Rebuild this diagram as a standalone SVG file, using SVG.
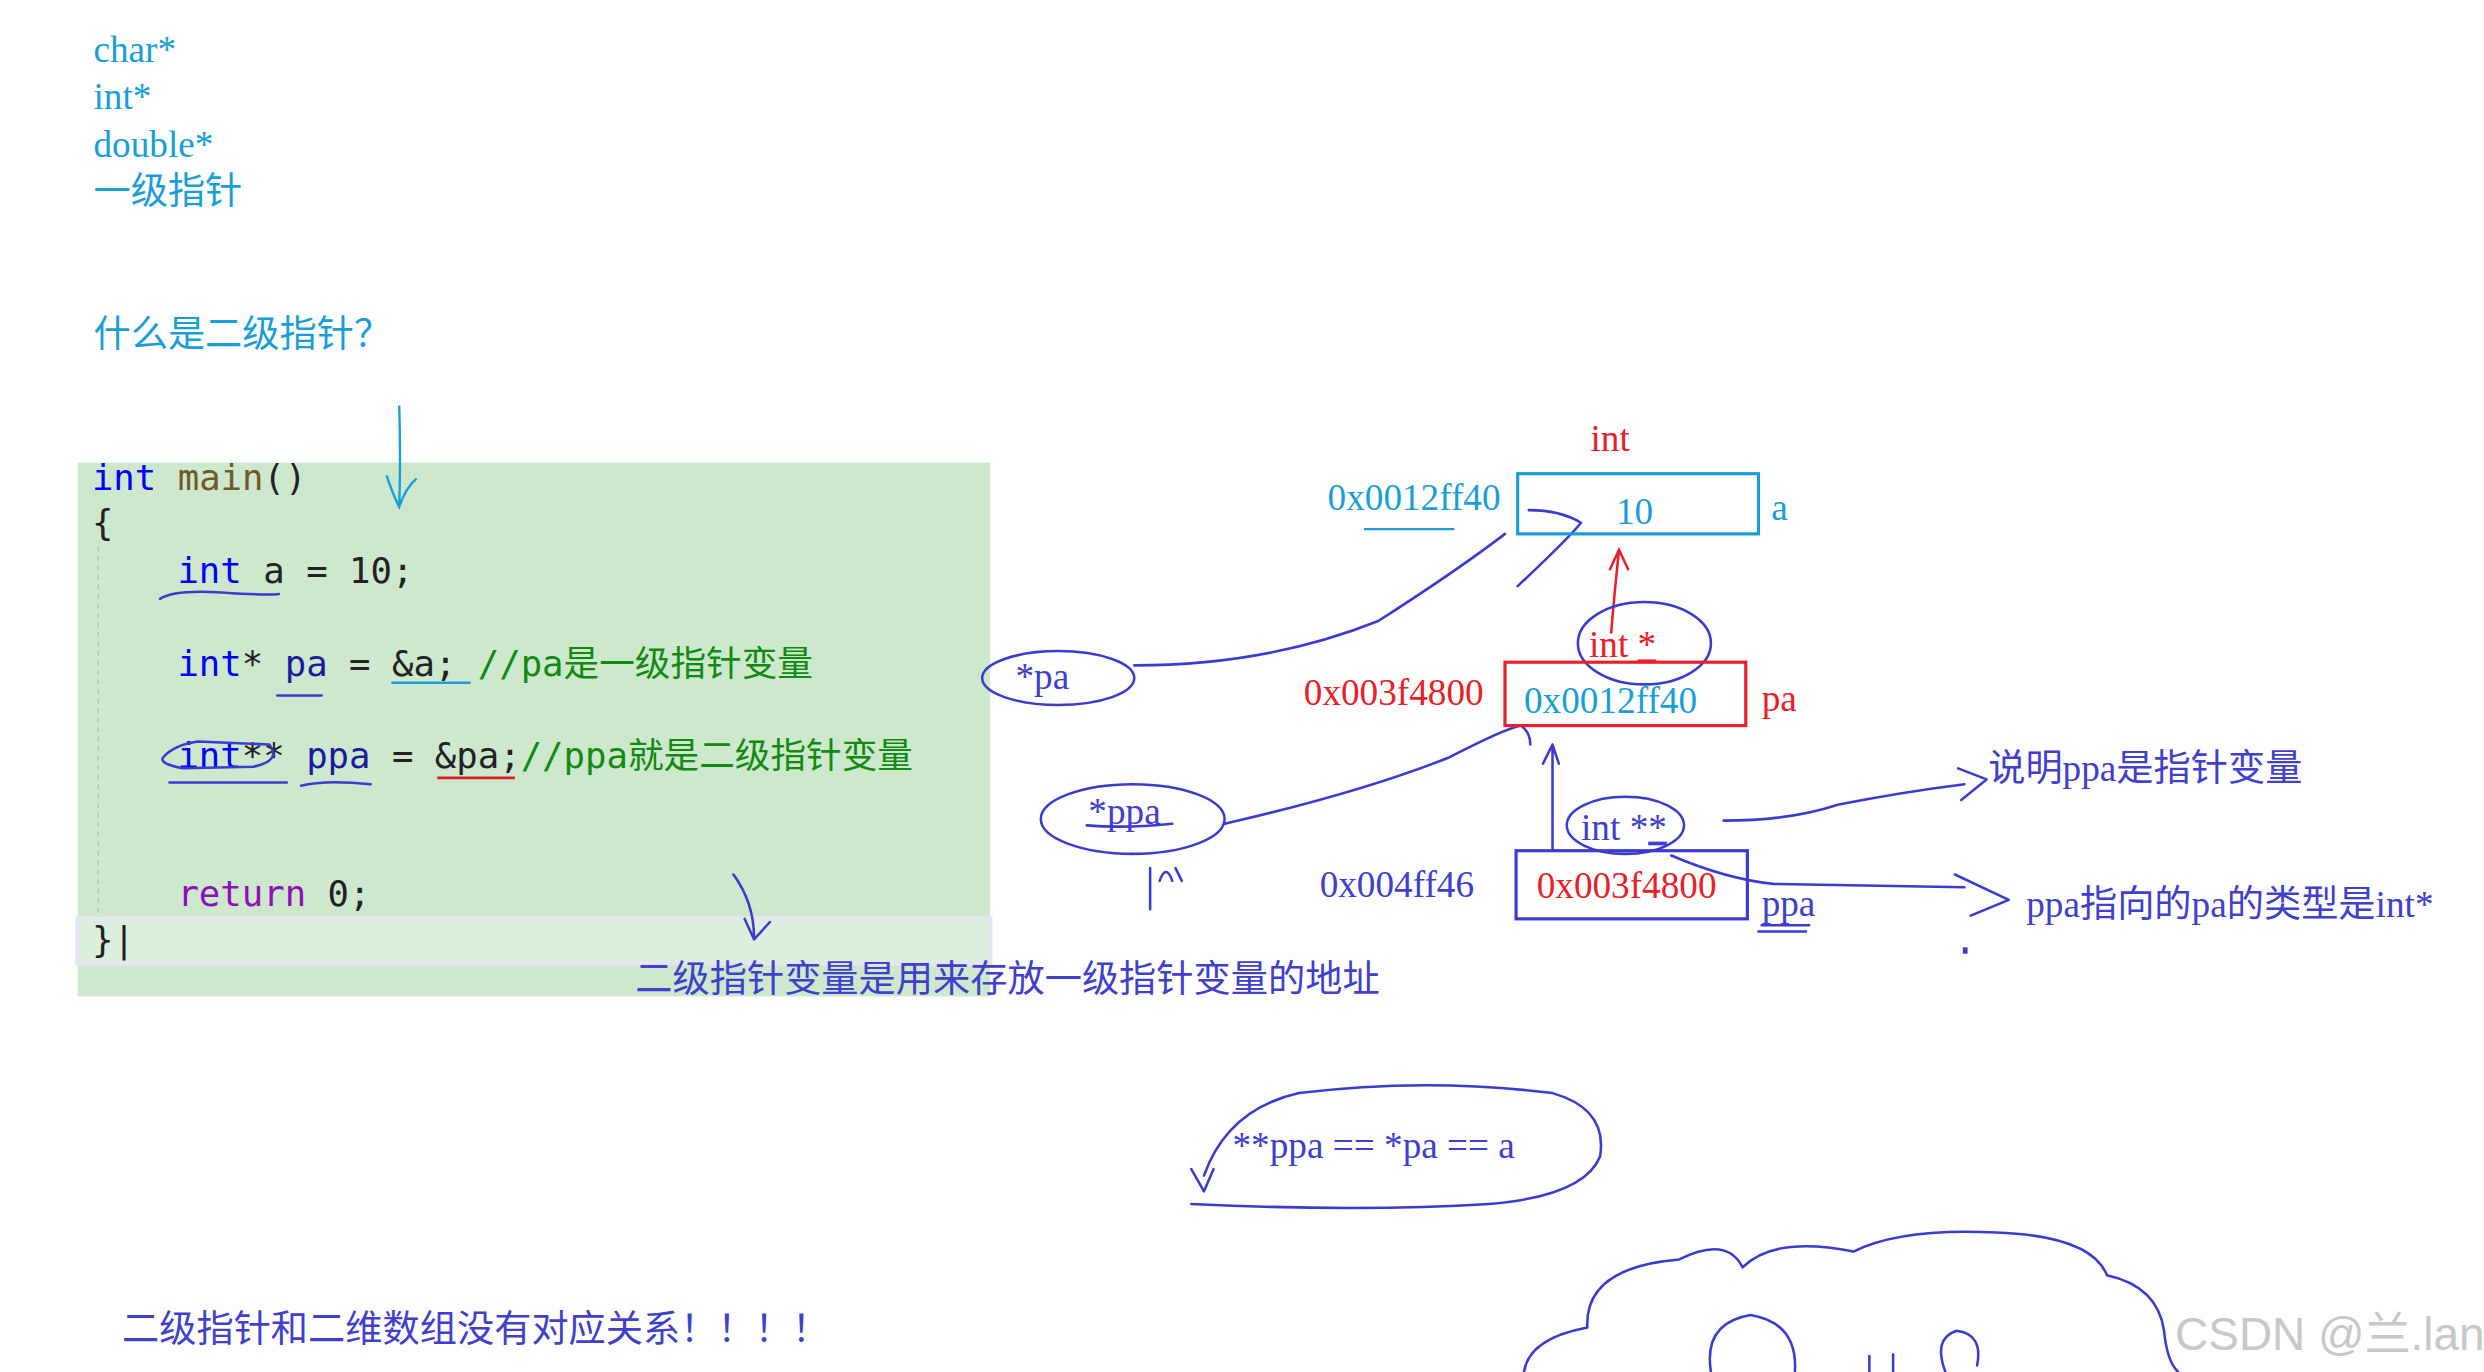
<svg xmlns="http://www.w3.org/2000/svg" width="2484" height="1372" viewBox="0 0 2484 1372">
<defs>
<style>
.s{font-family:"Liberation Serif","Noto Sans CJK SC",serif;font-size:23.5px}
.m{font-family:"DejaVu Sans Mono","Noto Sans CJK SC",monospace;font-size:22.5px}
.cy{fill:#1a9ed8}.rd{fill:#e8202a}.bl{fill:#4040cc}
.pen{fill:none;stroke:#3b3bd0;stroke-width:1.6;stroke-linecap:round;stroke-linejoin:round}
</style>
</defs>
<rect width="2484" height="1372" fill="#fff"/>
<g transform="scale(1.5842)">
<g id="intro">
<text class="s cy" x="59" y="39">char*</text>
<text class="s cy" x="59" y="69">int*</text>
<text class="s cy" x="59" y="99">double*</text>
<text class="s cy" x="59" y="129">一级指针</text>
<text class="s cy" x="59" y="219">什么是二级指针？</text>
</g>
<g id="code">
<rect x="49" y="292" width="576" height="337" fill="#cde8cd"/>
<rect x="49" y="580" width="576" height="28" fill="#dcefdc" stroke="#e4e8ee" stroke-width="3"/>
<line x1="62" y1="345" x2="62" y2="578" stroke="#b8c8b8" stroke-dasharray="3 3"/>
<text class="m" x="58" y="309"><tspan fill="#0000ff">int</tspan><tspan fill="#6f5a2a"> main</tspan><tspan fill="#222">()</tspan></text>
<text class="m" x="58" y="338" fill="#222">{</text>
<text class="m" x="112" y="368"><tspan fill="#0000ff">int</tspan><tspan fill="#222"> a = 10;</tspan></text>
<text class="m" x="112" y="427"><tspan fill="#0000ff">int</tspan><tspan fill="#222">* </tspan><tspan fill="#1a1aa0">pa</tspan><tspan fill="#222"> = &amp;a; </tspan><tspan fill="#118a11">//pa是一级指针变量</tspan></text>
<text class="m" x="112" y="485"><tspan fill="#0000ff">int</tspan><tspan fill="#222">** </tspan><tspan fill="#1a1aa0">ppa</tspan><tspan fill="#222"> = &amp;pa;</tspan><tspan fill="#118a11">//ppa就是二级指针变量</tspan></text>
<text class="m" x="112" y="572"><tspan fill="#8f10b8">return</tspan><tspan fill="#222"> 0;</tspan></text>
<text class="m" x="58" y="601" fill="#222">}|</text>
<path class="pen" d="M101 378 Q110 372 140 374 T176 375"/>
<path class="pen" d="M175 439 H203"/>
<path d="M247 431 H297" stroke="#1a9ed8" stroke-width="1.6" fill="none"/>
<path class="pen" d="M103 478 Q110 470 125 468 L170 470 Q178 480 160 484 L115 485 Q100 482 103 478 Z"/>
<path class="pen" d="M107 494 H181"/>
<path class="pen" d="M190 496 Q205 492 234 495"/>
<path d="M276 491 H325" stroke="#e02020" stroke-width="1.8"/>
</g>
<g id="connectors">
<path d="M252 256 Q253 290 252 320 M244 300 Q248 312 252 320 Q256 308 263 302" fill="none" stroke="#1a9ed8" stroke-width="1.5"/>
<path class="pen" d="M463 552 Q476 570 476 592 M470 580 L476 593 L486 582"/>
<path class="pen" d="M716 420 Q800 420 870 392 Q920 360 950 337"/>
<path class="pen" d="M958 370 Q990 340 998 330 Q985 322 965 322"/>
<path d="M1017 400 Q1019 375 1022 347 M1016 360 L1022 347 L1028 360" fill="none" stroke="#e8202a" stroke-width="1.6"/>
<path class="pen" d="M773 520 Q860 500 915 478 Q950 460 960 458 Q966 462 966 470"/>
<path class="pen" d="M980 537 V470 M974 482 L980 470 L984 482"/>
<path class="pen" d="M1088 518 Q1130 518 1160 508 Q1200 500 1240 495 M1236 485 L1254 492 L1238 505"/>
<path class="pen" d="M1055 540 Q1090 555 1120 558 L1240 560 M1234 552 L1268 568 L1244 578"/>
<path class="pen" d="M726 548 V574 M732 556 Q736 545 740 556 M742 548 L746 556"/>
</g>
<g id="memory">
<text class="s rd" x="1004" y="285">int</text>
<text class="s cy" x="838" y="322">0x0012ff40</text>
<path d="M861 334 H918" stroke="#1a9ed8" stroke-width="1.5"/>
<rect x="958" y="299" width="152" height="38" fill="none" stroke="#1a9ed8" stroke-width="2"/>
<text class="s cy" x="1020" y="331">10</text>
<text class="s cy" x="1118" y="328">a</text>
<text class="s rd" x="1003" y="415">int <tspan text-decoration="underline">*</tspan></text>
<ellipse cx="1038" cy="406" rx="42" ry="26" class="pen"/>
<text class="s rd" x="823" y="445">0x003f4800</text>
<rect x="950" y="418" width="152" height="40" fill="none" stroke="#e8202a" stroke-width="2"/>
<text class="s cy" x="962" y="450">0x0012ff40</text>
<text class="s rd" x="1112" y="449">pa</text>
<text class="s bl" x="998" y="530">int *<tspan text-decoration="underline">*</tspan></text>
<ellipse cx="1026" cy="521" rx="37" ry="18" class="pen"/>
<text class="s bl" x="833" y="566">0x004ff46</text>
<rect x="957" y="537" width="146" height="43" fill="none" stroke="#3b3bd0" stroke-width="2"/>
<text class="s rd" x="970" y="567">0x003f4800</text>
<text class="s bl" x="1112" y="578">ppa</text>
<path class="pen" d="M1112 584 H1142 M1110 588 H1140"/>
<text class="s bl" x="1255" y="493">说明ppa是指针变量</text>
<text class="s bl" x="1279" y="579">ppa指向的pa的类型是int*</text>
<rect x="1239" y="598" width="3" height="4" fill="#3b3bd0"/>
</g>
<g id="deref">
<ellipse cx="668" cy="428" rx="48" ry="17" class="pen"/>
<text class="s bl" x="641" y="435">*pa</text>
<ellipse cx="715" cy="517" rx="58" ry="22" class="pen"/>
<text class="s bl" x="687" y="520">*ppa</text>
<path class="pen" d="M686 521 Q710 523 740 520"/>
</g>
<g id="summary">
<text class="s bl" x="401" y="626">二级指针变量是用来存放一级指针变量的地址</text>
<path class="pen" d="M760 742 Q775 700 820 690 Q900 680 980 690 Q1015 700 1010 730 Q1000 755 940 760 Q860 765 752 760 M752 738 L760 752 L766 738"/>
<text class="s bl" x="778" y="731">**ppa == *pa == a</text>
<text class="s bl" x="77" y="847">二级指针和二维数组没有对应关系！！！！</text>
<path class="pen" d="M962 866 Q965 845 1002 838 Q1000 800 1060 795 Q1090 780 1100 800 Q1120 780 1170 790 Q1200 775 1260 778 Q1320 780 1330 805 Q1362 812 1366 840 Q1368 860 1375 866"/>
<path class="pen" d="M1080 866 Q1075 835 1105 830 Q1135 835 1133 866"/>
<path class="pen" d="M1228 866 Q1220 845 1235 840 Q1252 842 1248 862"/>
<path class="pen" d="M1180 866 V856 M1195 866 V855"/>
</g>
<text x="1373" y="852" font-family="Liberation Sans,Noto Sans CJK SC,sans-serif" font-size="29" fill="#c8c8c8">CSDN @兰.lan</text>
</g>
</svg>
